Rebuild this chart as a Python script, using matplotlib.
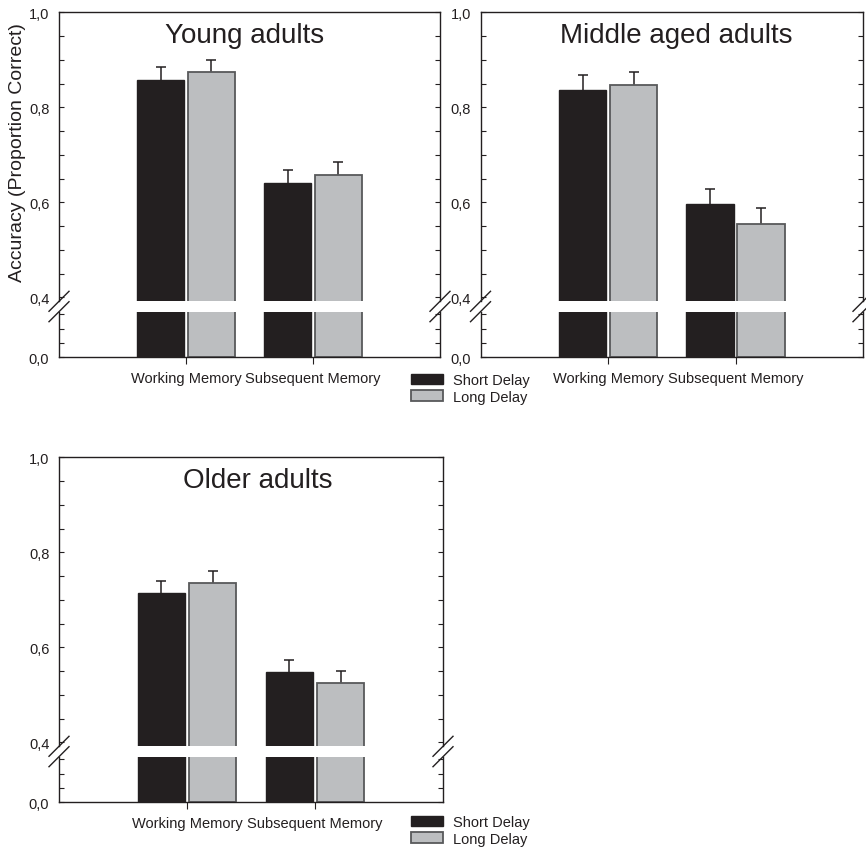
import matplotlib
matplotlib.use("Agg")
import matplotlib.pyplot as plt
from matplotlib.lines import Line2D
from matplotlib.patches import Patch
import numpy as np

plt.rcParams['font.family'] = ['Liberation Sans', 'DejaVu Sans']

# ---- data -------------------------------------------------------------
categories = ["Working Memory", "Subsequent Memory"]
series = ["Short Delay", "Long Delay"]
groups = ["Young adults", "Middle aged adults", "Older adults"]

young_short = [0.858, 0.640]
young_long = [0.874, 0.658]
young_short_err = [0.027, 0.027]
young_long_err = [0.025, 0.026]

middle_short = [0.836, 0.596]
middle_long = [0.846, 0.554]
middle_short_err = [0.033, 0.031]
middle_long_err = [0.029, 0.033]

older_short = [0.714, 0.547]
older_long = [0.736, 0.524]
older_short_err = [0.026, 0.027]
older_long_err = [0.025, 0.027]

upper_ticks = [0.4, 0.45, 0.5, 0.55, 0.6, 0.65, 0.7, 0.75, 0.8, 0.85, 0.9, 0.95, 1.0]
upper_labels = {0.4: "0,4", 0.6: "0,6", 0.8: "0,8", 1.0: "1,0"}
lower_ticks = [0.0, 0.1, 0.2, 0.3]
lower_labels = {0.0: "0,0"}

# ---- style -------------------------------------------------------------
W, H = 866, 853
INK = "#231f20"
BLACK_FILL = "#231f20"
GRAY_FILL = "#bcbec0"
GRAY_EDGE = "#58595b"
BAR_W = 0.37
OFFSET = 0.2

fig = plt.figure(figsize=(W / 100, H / 100), dpi=100)


def rect(l, r, top, bottom):
    return [l / W, 1 - bottom / H, (r - l) / W, (bottom - top) / H]


def style_axes(ax):
    for s in ax.spines.values():
        s.set_color(INK)
        s.set_linewidth(1.0)
    ax.tick_params(axis='y', which='both', direction='in', left=True, right=True,
                   length=3.3, width=0.8, color=INK, labelsize=10.5,
                   labelcolor=INK, pad=7)


def break_marks(ax_up, ax_lo, side):
    # pair of slashes across a spine at the axis break
    bb_up = ax_up.get_position()
    bb_lo = ax_lo.get_position()
    x = bb_up.x0 if side == 'left' else bb_up.x1
    dx, dy = 10 / W, 10 / H
    for y in (bb_up.y0, bb_lo.y1):
        fig.add_artist(Line2D([x - dx, x + dx], [y - dy, y + dy],
                              transform=fig.transFigure, color=INK, lw=1.0))


def upper_errorbars(ax, xs, vals, errs):
    # one-sided (upward) error bars; the lower cap is hidden
    cont = ax.errorbar(xs, vals, yerr=[np.zeros(len(vals)), errs],
                       fmt='none', ecolor=INK, elinewidth=1.1, capsize=3.6,
                       capthick=1.1, zorder=1)
    caps = cont.lines[1]
    if len(caps) == 2:
        caps[0].set_visible(False)


def panel(l, r, top, gap_top, gap_bot, bottom, short, long_, s_err, l_err,
          title, title_x, ylabel):
    ax_up = fig.add_axes(rect(l, r, top, gap_top))
    ax_lo = fig.add_axes(rect(l, r, gap_bot, bottom))
    x = np.arange(1, len(categories) + 1)
    up_px = gap_top - top
    ymin_up = 1.0 - up_px / 475.0
    lo_top = (bottom - gap_bot) / 143.0
    for ax in (ax_up, ax_lo):
        ax.bar(x - OFFSET, short, BAR_W, color=BLACK_FILL, edgecolor=INK,
               linewidth=1.0, zorder=2)
        ax.bar(x + OFFSET, long_, BAR_W, color=GRAY_FILL, edgecolor=GRAY_EDGE,
               linewidth=1.3, zorder=2)
        ax.set_xlim(0, 3)
        style_axes(ax)
    upper_errorbars(ax_up, x - OFFSET, short, s_err)
    upper_errorbars(ax_up, x + OFFSET, long_, l_err)

    ax_up.set_ylim(ymin_up, 1.0)
    ax_up.set_yticks(upper_ticks)
    ax_up.set_yticklabels([upper_labels.get(t, "") for t in upper_ticks])
    ax_up.spines['bottom'].set_visible(False)
    ax_up.set_xticks([])

    ax_lo.set_ylim(0, lo_top)
    ax_lo.set_yticks(lower_ticks)
    ax_lo.set_yticklabels([lower_labels.get(t, "") for t in lower_ticks])
    ax_lo.spines['top'].set_visible(False)
    ax_lo.set_xticks(x)
    ax_lo.set_xticklabels(categories)
    ax_lo.tick_params(axis='x', direction='out', length=5, width=0.8,
                      color=INK, labelsize=10.5, labelcolor=INK, pad=5)

    ax_up.text(title_x, 1 - 10 / up_px, title, transform=ax_up.get_xaxis_transform(),
               ha='center', va='top', fontsize=20, color=INK)
    if ylabel:
        ax_up.set_ylabel("Accuracy (Proportion Correct)", fontsize=14, color=INK)
        ax_up.yaxis.set_label_coords(-(l - 26) / (r - l), (gap_top - 152.5 + top - 13.3) / up_px)

    break_marks(ax_up, ax_lo, 'left')
    break_marks(ax_up, ax_lo, 'right')
    return ax_up, ax_lo


panel(59, 440, 13.3, 302.3, 312.7, 358.3, young_short, young_long,
      young_short_err, young_long_err, groups[0], 1.465, True)
panel(480.5, 863, 13.3, 302.3, 312.7, 358.3, middle_short, middle_long,
      middle_short_err, middle_long_err, groups[1], 1.533, False)
panel(59, 443, 458.3, 747.3, 757.7, 803.3, older_short, older_long,
      older_short_err, older_long_err, groups[2], 1.555, True)

handles = [Patch(facecolor=BLACK_FILL, edgecolor=INK, linewidth=1.0),
           Patch(facecolor=GRAY_FILL, edgecolor=GRAY_EDGE, linewidth=1.3)]
for ytop in (374, 816):
    fig.legend(handles, series, loc='upper left',
               bbox_to_anchor=(411 / W, 1 - ytop / H), frameon=False,
               fontsize=10.5, handlelength=2.2, handleheight=0.7,
               handletextpad=0.7, labelspacing=0.18, borderpad=0,
               borderaxespad=0, labelcolor=INK)

fig.savefig("out.png", dpi=100)
